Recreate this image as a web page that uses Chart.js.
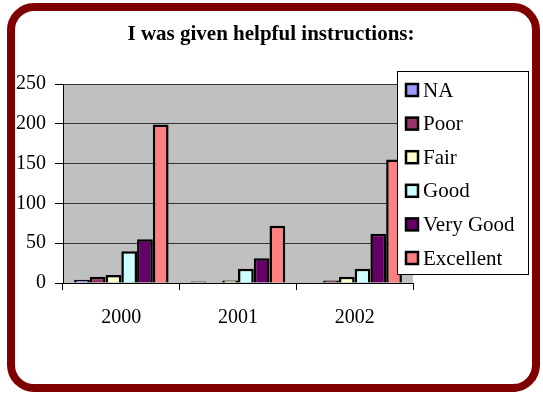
<!DOCTYPE html>
<html>
<head>
<meta charset="utf-8">
<script src="https://cdn.jsdelivr.net/npm/chart.js@4"></script>
<style>
  html, body { margin: 0; padding: 0; background: #fff; }
  #wrap { position: relative; width: 543px; height: 393px; }
  #frame {
    position: absolute; left: 7px; top: 3px; width: 517px; height: 373px;
    border: 8px solid #800000; border-radius: 27px; pointer-events: none;
  }
  canvas { position: absolute; left: 0; top: 0; }
</style>
</head>
<body>
<div id="wrap">
  <canvas id="myChart" width="543" height="393"></canvas>
  <div id="frame"></div>
</div>
<script>
const years = ['2000', '2001', '2002'];
const ratings = ['NA', 'Poor', 'Fair', 'Good', 'Very Good', 'Excellent'];
const colors = ['#9999FF', '#993366', '#FFFFCC', '#CCFFFF', '#660066', '#FF8080'];

const na = [4, 2, 1];
const poor = [8, 0, 3];
const fair = [10, 3, 8];
const good = [40, 18, 18];
const veryGood = [55, 31, 62];
const excellent = [199, 72, 155];

const yTicks = [0, 50, 100, 150, 200, 250];

const serif = "'Liberation Serif', 'Times New Roman', serif";

// grey plot background
const plotBg = {
  id: 'plotBg',
  beforeDraw(chart) {
    const { ctx, chartArea: a } = chart;
    ctx.save();
    ctx.fillStyle = '#C0C0C0';
    ctx.fillRect(a.left, a.top, a.right - a.left, a.bottom - a.top);
    ctx.restore();
  }
};

// title and boxed legend drawn over the plot
const overlay = {
  id: 'overlay',
  afterDraw(chart) {
    const ctx = chart.ctx;
    ctx.save();
    ctx.fillStyle = '#000';
    ctx.font = 'bold 21px ' + serif;
    ctx.textAlign = 'center';
    ctx.textBaseline = 'alphabetic';
    ctx.fillText('I was given helpful instructions:', 271, 40);

    const lx = 397, ly = 71, lw = 131, lh = 203;
    ctx.fillStyle = '#fff';
    ctx.fillRect(lx, ly, lw, lh);
    ctx.strokeStyle = '#000';
    ctx.lineWidth = 1;
    ctx.strokeRect(lx + 0.5, ly + 0.5, lw, lh);

    ctx.font = '21px ' + serif;
    ctx.textAlign = 'left';
    ctx.textBaseline = 'middle';
    chart.data.datasets.forEach((ds, i) => {
      const cy = 90 + i * 33.6;
      ctx.fillStyle = ds.backgroundColor;
      ctx.fillRect(406, cy - 6, 12, 12);
      ctx.lineWidth = 2.5;
      ctx.strokeStyle = '#000';
      ctx.strokeRect(406, cy - 6, 12, 12);
      ctx.fillStyle = '#000';
      ctx.fillText(ds.label, 423, cy + 1);
    });
    ctx.restore();
  }
};

const series = [na, poor, fair, good, veryGood, excellent];

new Chart(document.getElementById('myChart').getContext('2d'), {
  type: 'bar',
  data: {
    labels: years,
    datasets: ratings.map((r, i) => ({
      label: r,
      data: series[i],
      backgroundColor: colors[i],
      borderColor: '#000',
      borderWidth: 2.5,
      borderSkipped: 'bottom',
      categoryPercentage: 0.81,
      barPercentage: 1.0
    }))
  },
  options: {
    responsive: false,
    animation: false,
    layout: { padding: { top: 84, left: 0, right: 130, bottom: 0 } },
    plugins: {
      legend: { display: false },
      tooltip: { enabled: false }
    },
    scales: {
      x: {
        offset: true,
        grid: {
          offset: true,
          drawOnChartArea: false,
          drawTicks: true,
          tickLength: 7,
          tickColor: '#000'
        },
        border: { color: '#000', width: 1 },
        ticks: {
          color: '#000',
          font: { family: serif, size: 20 },
          padding: 16
        },
        afterFit(scale) { scale.height = 110; }
      },
      y: {
        min: 0,
        max: 250,
        afterBuildTicks(scale) { scale.ticks = yTicks.map(v => ({ value: v })); },
        grid: {
          color: '#333',
          lineWidth: 1,
          tickColor: '#000',
          tickLength: 8
        },
        border: { color: '#000', width: 1 },
        ticks: {
          color: '#000',
          font: { family: serif, size: 20 },
          padding: 9
        },
        afterFit(scale) { scale.width = 63; }
      }
    }
  },
  plugins: [plotBg, overlay]
});
</script>
</body>
</html>
